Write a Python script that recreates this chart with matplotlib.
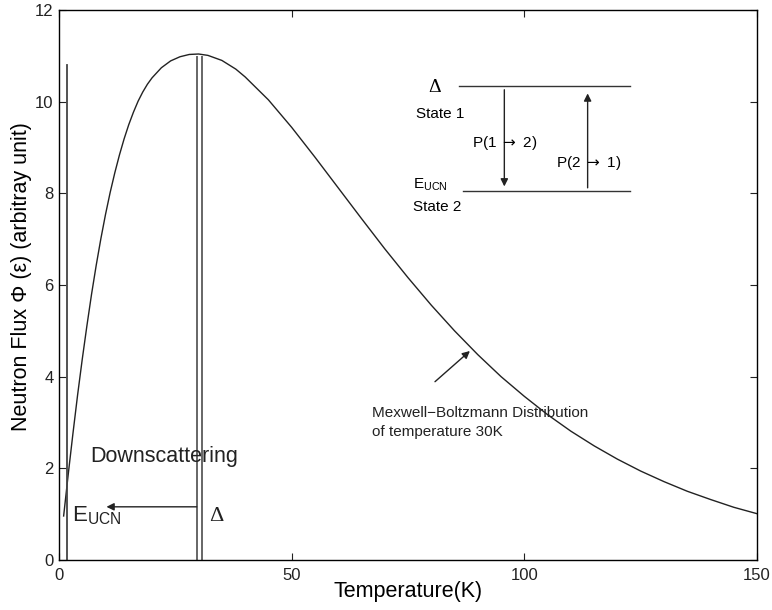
import numpy as np
import matplotlib
matplotlib.use('Agg')
import matplotlib.pyplot as plt

plt.rcParams['font.family'] = ['Liberation Sans', 'DejaVu Sans']

# neutron flux vs temperature
temp = [1, 2, 3, 4, 5, 6, 7, 8, 9, 10, 11, 12, 13, 14, 15, 16, 17, 18, 19,
        20, 22, 24, 26, 28, 30, 32, 35, 38, 40, 45, 50, 55, 60, 65, 70, 75,
        80, 85, 90, 95, 100, 105, 110, 115, 120, 125, 130, 135, 140, 145, 150]
flux = [0.96, 1.88, 2.76, 3.60, 4.38, 5.11, 5.80, 6.43, 7.01, 7.54, 8.02,
        8.45, 8.84, 9.19, 9.50, 9.77, 10.01, 10.21, 10.38, 10.52, 10.74,
        10.89, 10.98, 11.03, 11.04, 11.01, 10.90, 10.71, 10.54, 10.04, 9.44,
        8.79, 8.12, 7.45, 6.79, 6.16, 5.56, 5.00, 4.48, 4.00, 3.57, 3.17,
        2.81, 2.49, 2.20, 1.94, 1.71, 1.50, 1.32, 1.15, 1.01]

# marker lines: E_UCN and the two Delta lines
eucn_x, eucn_top = 1.7, 10.8
delta_x = [29.6, 30.7]
delta_top = 10.98

# two-level scheme in the upper right
level_hi, level_lo = 10.35, 8.04
level_x0, level_x1 = 86.0, 122.7

fig = plt.figure(figsize=(7.72, 6.10), dpi=100)
ax = fig.add_axes([0.0764, 0.082, 0.9042, 0.9016])

ax.plot(temp, flux, color='#222222', lw=1.0)

ax.plot([eucn_x, eucn_x], [0, eucn_top], color='#444444', lw=1.3)
ax.plot([delta_x[0], delta_x[0]], [-0.05, delta_top], color='#666666', lw=1.4)
ax.plot([delta_x[1], delta_x[1]], [0, delta_top], color='#666666', lw=1.4)

arrow = dict(arrowstyle='-|>', color='#222222', lw=1.0,
             mutation_scale=11, shrinkA=0, shrinkB=0)

ax.annotate('', xy=(10.2, 1.16), xytext=(delta_x[0], 1.16), arrowprops=arrow)
ax.text(6.7, 2.25, 'Downscattering', fontsize=15.5, va='center', color='#222222')
ax.text(2.9, 0.84, r'E$_{\mathregular{UCN}}$', fontsize=16, va='baseline',
        color='#222222')
ax.text(32.3, 0.95, 'Δ', fontsize=16, va='center', family='Liberation Serif',
        color='#222222')

# level diagram
ax.plot([level_x0, level_x1], [level_hi, level_hi], color='#333333', lw=1.0)
ax.plot([level_x0 + 0.8, level_x1], [level_lo, level_lo], color='#333333', lw=1.0)
ax.annotate('', xy=(95.7, 8.15), xytext=(95.7, 10.26), arrowprops=arrow)
ax.annotate('', xy=(113.6, 10.18), xytext=(113.6, 8.12), arrowprops=arrow)
ax.text(79.3, 10.3, 'Δ', fontsize=14, va='center', family='Liberation Serif')
ax.text(76.7, 9.72, 'State 1', fontsize=11, va='center')
ax.text(88.7, 9.1, r'P(1 $\rightarrow$ 2)', fontsize=11, va='center')
ax.text(106.8, 8.66, r'P(2 $\rightarrow$ 1)', fontsize=11, va='center')
ax.text(76.0, 8.12, r'E$_{\mathregular{UCN}}$', fontsize=11, va='baseline')
ax.text(76.0, 7.71, 'State 2', fontsize=11, va='center')

# curve label
ax.annotate('', xy=(88.3, 4.56), xytext=(80.8, 3.89), arrowprops=arrow)
ax.text(67.2, 3.2, 'Mexwell\u2212Boltzmann Distribution', fontsize=11,
        va='center', color='#222222')
ax.text(67.2, 2.8, 'of temperature 30K', fontsize=11, va='center',
        color='#222222')

ax.set_xlim(0, 150)
ax.set_ylim(0, 12)
ax.set_xticks([0, 50, 100, 150])
ax.set_yticks([0, 2, 4, 6, 8, 10, 12])
ax.tick_params(direction='in', top=True, right=True, labelsize=12,
               length=5, width=0.8, colors='#222222')
ax.tick_params(axis='x', pad=6)
ax.tick_params(axis='y', pad=4)
for s in ax.spines.values():
    s.set_linewidth(1.0)
ax.set_xlabel('Temperature(K)', fontsize=15.5)
ax.set_ylabel('Neutron Flux Φ (ε) (arbitray unit)', fontsize=15.5)
ax.xaxis.set_label_coords(0.5, -0.038)
ax.yaxis.set_label_coords(-0.039, 0.515)

fig.savefig('out.png', dpi=100)
